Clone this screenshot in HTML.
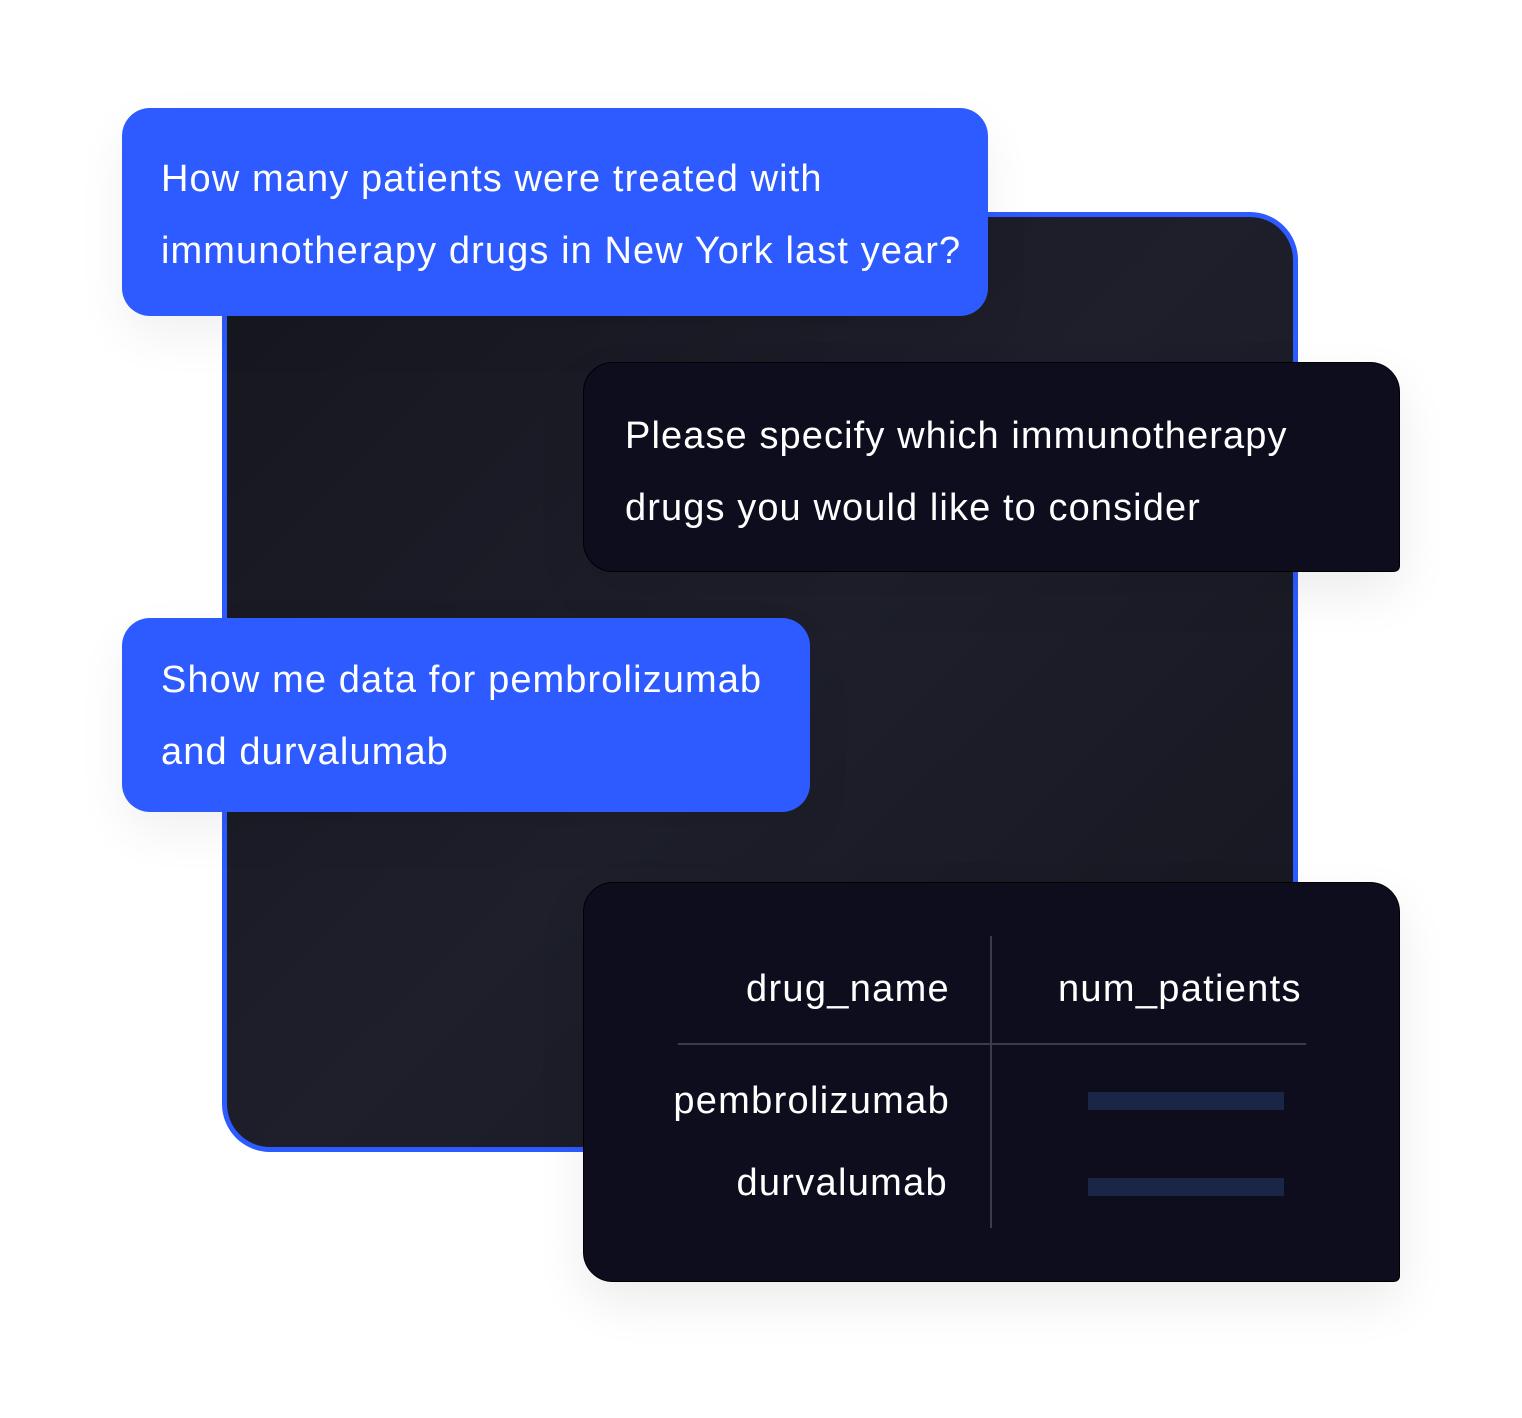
<!DOCTYPE html>
<html><head><style>
body{margin:0;width:1522px;height:1418px;background:#fff;position:relative;overflow:hidden;font-family:"Liberation Sans",sans-serif;}
.panel{position:absolute;left:222px;top:212px;width:1066px;height:930px;border:5px solid #2d5bff;border-radius:48px;background:linear-gradient(135deg,#16161f 0%,#1e1f2b 50%,#161620 100%);}
.b{position:absolute;box-sizing:border-box;color:#fff;font-size:38px;line-height:72px;letter-spacing:1.1px;white-space:nowrap;}
.blue{background:#2d5bff;border-radius:28px;box-shadow:0 20px 50px rgba(0,0,0,0.06);}
.dark{background:#0d0d1e;border:1.5px solid #000;border-radius:30px 30px 6px 30px;box-shadow:0 20px 50px rgba(0,0,0,0.08);}
.t{position:absolute;color:#fff;font-size:38px;letter-spacing:1.3px;text-align:right;}
.bar{position:absolute;left:1088px;width:196px;height:18px;background:#1b2647;}
</style></head><body>
<div class="panel"></div>
<div class="b blue" style="left:122px;top:108px;width:866px;height:208px;padding:35px 0 0 39px;">How many patients were treated with<br>immunotherapy drugs in New York last year?</div>
<div class="b dark" style="left:583px;top:362px;width:817px;height:210px;padding:37px 0 0 41px;">Please specify which immunotherapy<br>drugs you would like to consider</div>
<div class="b blue" style="left:122px;top:618px;width:688px;height:194px;padding:26px 0 0 39px;">Show me data for pembrolizumab<br>and durvalumab</div>
<div class="b dark" style="left:583px;top:882px;width:817px;height:400px;"></div>
<div style="position:absolute;left:990px;top:936px;width:1.5px;height:292px;background:#3a3b4c"></div>
<div style="position:absolute;left:678px;top:1043px;width:628px;height:2px;background:#3a3b4c"></div>
<div class="t" style="right:572px;top:968px;">drug_name</div>
<div class="t" style="left:1058px;top:968px;">num_patients</div>
<div class="t" style="right:572px;top:1080px;">pembrolizumab</div>
<div class="t" style="right:574px;top:1162px;">durvalumab</div>
<div class="bar" style="top:1092px"></div>
<div class="bar" style="top:1178px"></div>
</body></html>
